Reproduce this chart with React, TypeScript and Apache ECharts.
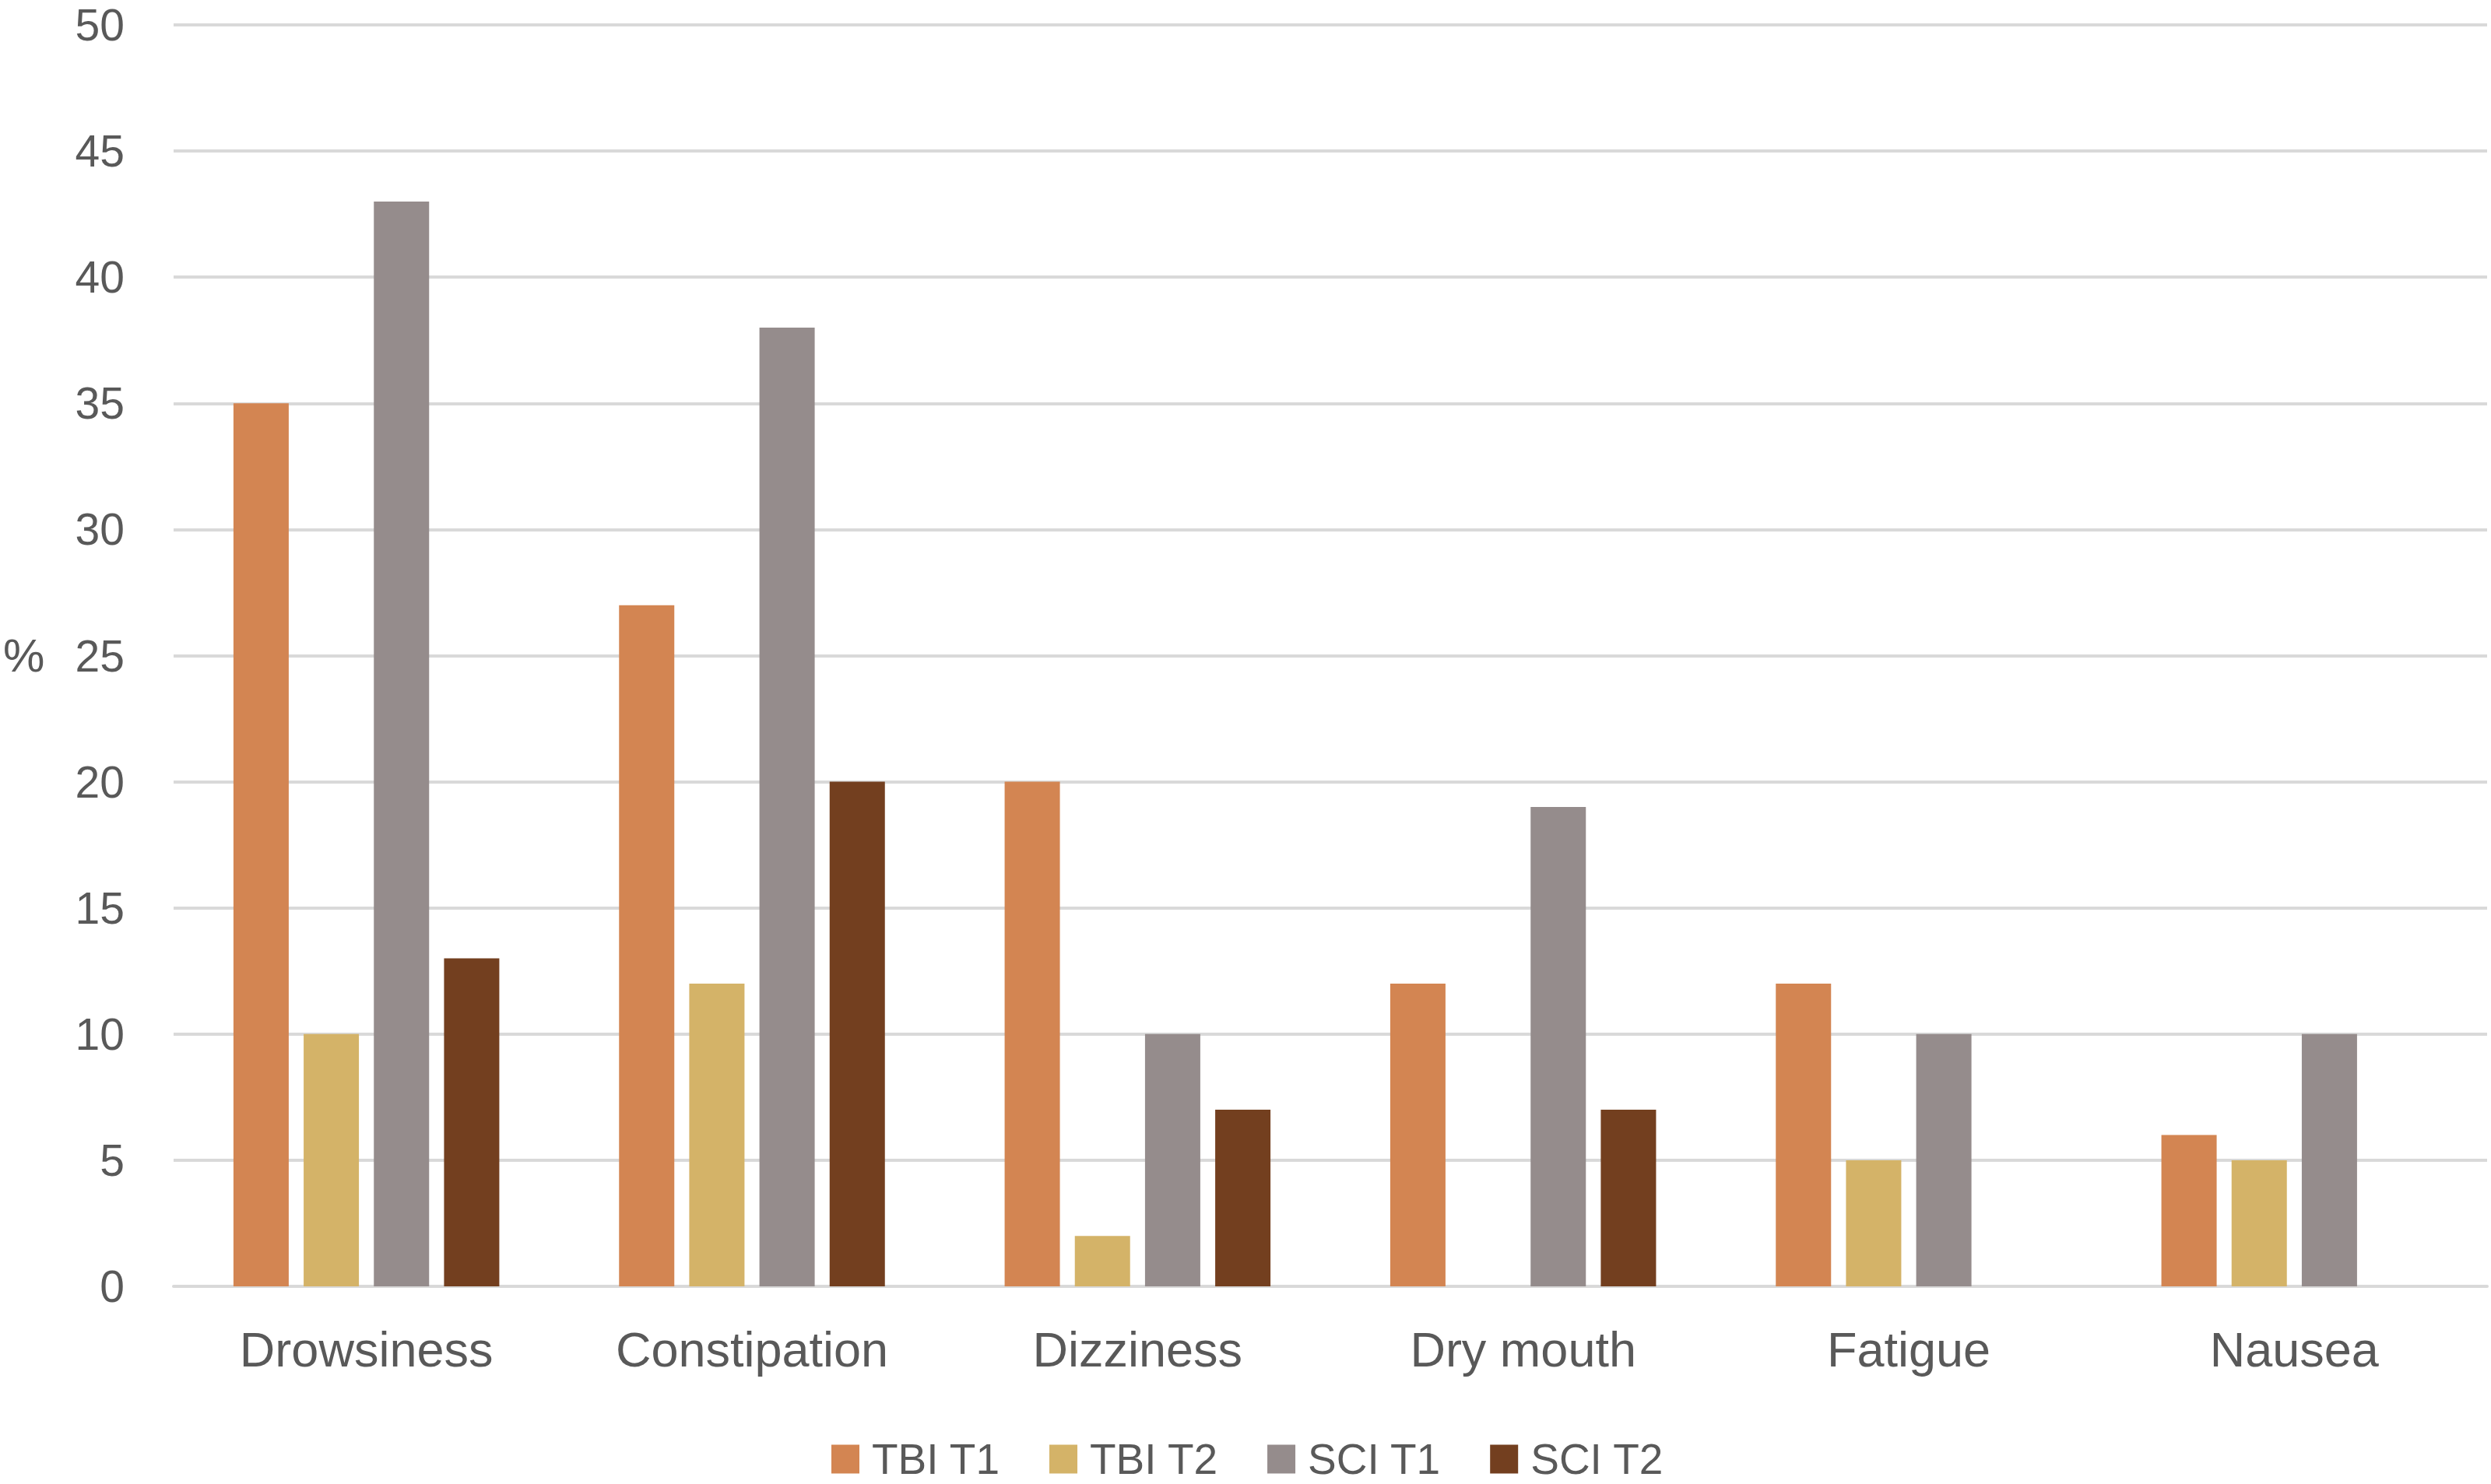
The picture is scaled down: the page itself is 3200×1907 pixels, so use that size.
import React, { useEffect, useRef } from "react";
import * as echarts from "echarts";

const categories = ["Drowsiness", "Constipation", "Dizziness", "Dry mouth", "Fatigue", "Nausea"];
const seriesNames = ["TBI T1", "TBI T2", "SCI T1", "SCI T2"];
const tbiT1 = [35, 27, 20, 12, 12, 6];
const tbiT2 = [10, 12, 2, null, 5, 5];
const sciT1 = [43, 38, 10, 19, 10, 10];
const sciT2 = [13, 20, 7, 7, null, null];
const seriesColors = ["#D38552", "#D4B368", "#958C8C", "#733F1F"];
const yMin = 0;
const yMax = 50;
const yInterval = 5;

const FONT = "'Liberation Sans', Arial, sans-serif";
const TEXT = "#595959";
const GRID = "#D9D9D9";

export default function App() {
  const ref = useRef<HTMLDivElement>(null);
  useEffect(() => {
    if (!ref.current) return;
    const chart = echarts.init(ref.current, null, { renderer: "svg" });
    const values = [tbiT1, tbiT2, sciT1, sciT2];
    chart.setOption({
      animation: false,
      backgroundColor: "#FFFFFF",
      textStyle: { fontFamily: FONT },
      grid: { left: 223, right: 5, top: 32, bottom: 254, containLabel: false },
      legend: {
        left: 1063,
        top: 1842,
        icon: "rect",
        itemWidth: 36,
        itemHeight: 37,
        itemGap: 63,
        textStyle: {
          fontFamily: FONT,
          fontSize: 55,
          lineHeight: 56,
          color: TEXT,
          padding: [0, 0, 0, 11],
        },
        data: seriesNames,
      },
      graphic: [
        {
          type: "text",
          left: 4,
          top: 812,
          style: { text: "%", fontFamily: FONT, fontSize: 60, fill: TEXT },
        },
      ],
      xAxis: {
        type: "category",
        data: categories,
        axisLine: { show: true, lineStyle: { color: GRID, width: 4 } },
        axisTick: { show: false },
        axisLabel: { fontFamily: FONT, fontSize: 63, color: TEXT, margin: 49 },
      },
      yAxis: {
        type: "value",
        min: yMin,
        max: yMax,
        interval: yInterval,
        axisLine: { show: false },
        axisTick: { show: false },
        axisLabel: { fontFamily: FONT, fontSize: 57, lineHeight: 50, color: TEXT, margin: 63 },
        splitLine: { lineStyle: { color: GRID, width: 4 } },
      },
      series: seriesNames.map((name, i) => ({
        name,
        type: "bar",
        data: values[i],
        barWidth: 71,
        barGap: "27%",
        itemStyle: { color: seriesColors[i] },
      })),
    });
    return () => chart.dispose();
  }, []);
  return (
    <div
      ref={ref}
      style={{ position: "fixed", left: 0, top: 0, width: 3200, height: 1907 }}
    />
  );
}
